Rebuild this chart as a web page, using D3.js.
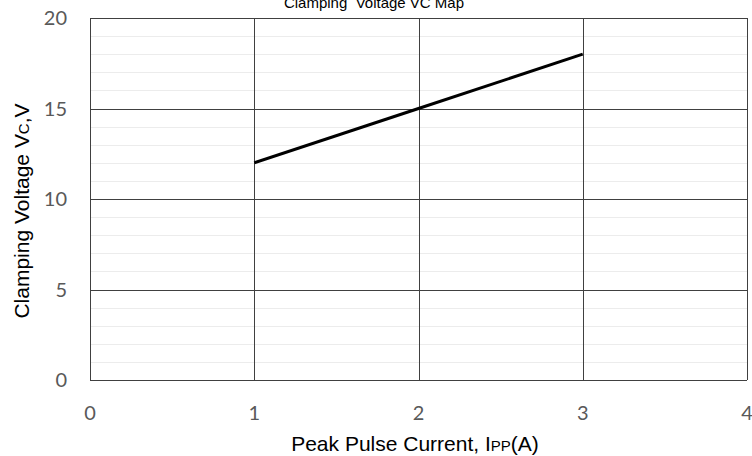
<!DOCTYPE html>
<html>
<head>
<meta charset="utf-8">
<script src="https://cdn.jsdelivr.net/npm/d3@7"></script>
<style>
  html, body { margin: 0; padding: 0; background: #fff; }
  svg { display: block; }
</style>
</head>
<body>
<svg id="chart" width="752" height="456"></svg>
<script>
// Clamping voltage vs. peak pulse current
const currentA = [1, 2, 3];
const voltageV = [12, 15, 18];
const xTicks = [0, 1, 2, 3, 4];
const yTicks = [0, 5, 10, 15, 20];
const yMinor = d3.range(0, 21, 1);

const W = 752, H = 456;
const m = { top: 18, right: 5, bottom: 76, left: 90 };

const svg = d3.select('#chart');

const x = d3.scaleLinear().domain([0, 4]).range([m.left, W - m.right]);
const y = d3.scaleLinear().domain([0, 20]).range([H - m.bottom, m.top]);

// minor horizontal grid
svg.append('g')
  .selectAll('line')
  .data(yMinor.filter(v => v % 5 !== 0))
  .join('line')
  .attr('x1', x(0)).attr('x2', x(4))
  .attr('y1', d => Math.round(y(d)) + 0.5).attr('y2', d => Math.round(y(d)) + 0.5)
  .attr('stroke', '#ececec').attr('stroke-width', 1);

// major grid
svg.append('g')
  .selectAll('line')
  .data(yTicks)
  .join('line')
  .attr('x1', x(0)).attr('x2', x(4))
  .attr('y1', d => Math.round(y(d)) + 0.5).attr('y2', d => Math.round(y(d)) + 0.5)
  .attr('stroke', '#404040').attr('stroke-width', 1);

svg.append('g')
  .selectAll('line')
  .data(xTicks)
  .join('line')
  .attr('x1', d => Math.round(x(d)) + 0.5).attr('x2', d => Math.round(x(d)) + 0.5)
  .attr('y1', y(0)).attr('y2', y(20))
  .attr('stroke', '#404040').attr('stroke-width', 1);

// data line
svg.append('path')
  .datum(currentA.map((c, i) => [c, voltageV[i]]))
  .attr('fill', 'none')
  .attr('stroke', '#000')
  .attr('stroke-width', 3)
  .attr('d', d3.line().x(d => x(d[0])).y(d => y(d[1])));

// tick labels
const tickFont = 'Lato, "Open Sans", sans-serif';
svg.append('g')
  .selectAll('text')
  .data(xTicks)
  .join('text')
  .attr('x', d => x(d)).attr('y', 420)
  .attr('text-anchor', 'middle')
  .attr('font-family', tickFont).attr('font-size', 20)
  .attr('fill', '#595959')
  .text(d => d);

svg.append('g')
  .selectAll('text')
  .data(yTicks)
  .join('text')
  .attr('x', 67).attr('y', d => y(d) + 7)
  .attr('text-anchor', 'end')
  .attr('font-family', tickFont).attr('font-size', 20)
  .attr('fill', '#595959')
  .text(d => d);

// axis titles
const labelFont = '"Liberation Sans", Arial, sans-serif';
const xt = svg.append('text')
  .attr('x', 415).attr('y', 451)
  .attr('text-anchor', 'middle')
  .attr('font-family', labelFont).attr('font-size', 21)
  .attr('fill', '#000');
xt.append('tspan').text('Peak Pulse Current, I');
xt.append('tspan').attr('font-size', 15).text('PP');
xt.append('tspan').text('(A)');

const yt = svg.append('text')
  .attr('transform', `translate(29, 211) rotate(-90)`)
  .attr('text-anchor', 'middle')
  .attr('font-family', labelFont).attr('font-size', 21)
  .attr('fill', '#000');
yt.append('tspan').text('Clamping Voltage V');
yt.append('tspan').attr('font-size', 15).text('C');
yt.append('tspan').text(',V');

// title (its top runs off the image edge, as in the source)
svg.append('text')
  .attr('x', 374).attr('y', 8)
  .attr('text-anchor', 'middle')
  .attr('font-family', labelFont).attr('font-size', 15)
  .attr('fill', '#000')
  .attr('xml:space', 'preserve')
  .text('Clamping  Voltage VC Map');
</script>
</body>
</html>
